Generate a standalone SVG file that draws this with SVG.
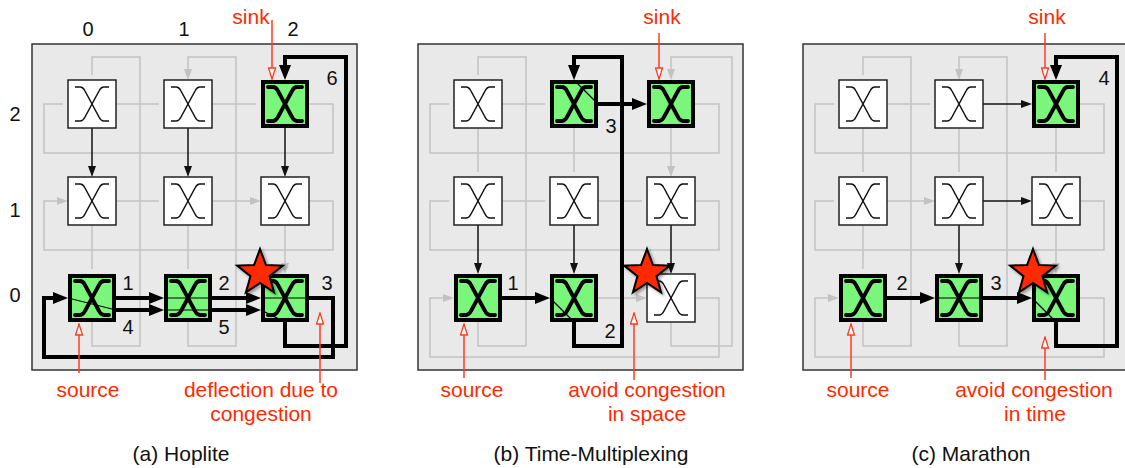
<svg xmlns="http://www.w3.org/2000/svg" xmlns:xlink="http://www.w3.org/1999/xlink" width="1125" height="468" viewBox="0 0 1125 468">
<style>
.box{fill:#e9e9e9;stroke:#333;stroke-width:1.5}
.g{fill:none;stroke:#c2c2c2;stroke-width:1.5}
.gm{marker-end:url(#ag)}
.b{fill:none;stroke:#111;stroke-width:1.5;marker-end:url(#ab)}
.t{fill:none;stroke:#000;stroke-width:4;stroke-linejoin:miter;marker-end:url(#at)}
.wn{fill:#fff;stroke:#222;stroke-width:1.5}
.gn{fill:#7af77a;stroke:#000;stroke-width:4}
.xw{fill:none;stroke:#111;stroke-width:1.5}
.xg{fill:none;stroke:#000;stroke-width:3.8;stroke-linecap:round}
.in{fill:none;stroke:#000;stroke-width:1.2}
.star{fill:#ff2a00;stroke:#000;stroke-width:2;stroke-linejoin:miter;filter:url(#sh)}
.red{fill:none;stroke:#ff3b1f;stroke-width:1.5;marker-end:url(#ar)}
text{font-family:"Liberation Sans",Arial,Helvetica,sans-serif}
.num{font-size:20px;fill:#111;text-anchor:middle}
.rt{font-size:21px;fill:#ff2a00;text-anchor:middle}
.cap{font-size:21px;fill:#111;text-anchor:middle}
</style>
<defs>
<filter id="sh" x="-30%" y="-30%" width="160%" height="160%"><feDropShadow dx="2" dy="2" stdDeviation="1.5" flood-color="#000" flood-opacity="0.35"/></filter>
<marker id="ag" markerUnits="userSpaceOnUse" markerWidth="11" markerHeight="8" viewBox="0 0 11 8" refX="6" refY="4" orient="auto"><path d="M0 0L11 4L0 8z" fill="#c2c2c2"/></marker>
<marker id="ab" markerUnits="userSpaceOnUse" markerWidth="11" markerHeight="8" viewBox="0 0 11 8" refX="6" refY="4" orient="auto"><path d="M0 0L11 4L0 8z" fill="#111"/></marker>
<marker id="at" markerUnits="userSpaceOnUse" markerWidth="15" markerHeight="12" viewBox="0 0 15 12" refX="7" refY="6" orient="auto"><path d="M0 0L15 6L0 12z" fill="#000"/></marker>
<marker id="ar" markerUnits="userSpaceOnUse" markerWidth="13" markerHeight="9" viewBox="0 0 13 9" refX="12" refY="4.5" orient="auto"><path d="M1 1L12 4.5L1 8z" fill="#fff" stroke="#ff3b1f" stroke-width="1.3"/></marker>
<path id="xs" d="M7 7H12Q15 7 17 11L31 37Q33 41 36 41H41M41 7H36Q33 7 31 11L17 37Q15 41 12 41H7"/>
<path id="st" d="M0 -24L5.88 -8.09L22.83 -7.42L9.51 3.09L14.11 19.42L0 10L-14.11 19.42L-9.51 3.09L-22.83 -7.42L-5.88 -8.09Z"/>
</defs>

<rect class="box" x="32" y="44" width="325" height="326"/>
<rect class="box" x="418" y="44" width="325" height="326"/>
<rect class="box" x="803" y="44" width="330" height="326"/>

<g id="connectors">
 <g id="conn-a">
  <path class="g gm" d="M116 104H159M212 104H256M116 201H159M212 201H256"/>
  <path class="g gm" d="M309 104H333V153H44V104H63M309 201H333V250H44V201H63"/>
  <path class="g gm" d="M92 225V269M188 225V269M285 225V269"/>
  <path class="g gm" d="M92 322V346H140V57H92V75M188 322V346H236V57H188V75"/>
  <path class="b" d="M92 128V172"/><path class="b" d="M188 128V172"/><path class="b" d="M285 128V172"/>
  <path class="t" d="M116 298H156"/><path class="t" d="M116 310H156"/>
  <path class="t" d="M212 298H253"/><path class="t" d="M212 310H253"/>
  <path class="t" d="M309 298H333V357H44V298H60"/>
  <path class="t" d="M285 322V346H346V57H285V72"/>
 </g>
 <g id="conn-b" transform="translate(386,0)">
  <path class="g gm" d="M116 104H159M116 201H159M212 201H256M212 298H256"/>
  <path class="g gm" d="M309 104H333V153H44V104H63M309 201H333V250H44V201H63M309 298H333V357H44V298H63"/>
  <path class="g gm" d="M92 128V172M188 128V172M285 128V172"/>
  <path class="g gm" d="M92 322V346H140V57H92V75M285 322V346H346V57H285V75"/>
  <path class="b" d="M92 225V269"/><path class="b" d="M188 225V269"/><path class="b" d="M285 225V269"/>
  <path class="t" d="M116 298H156"/>
  <path class="t" d="M188 322V346H236V57H188V72"/>
  <path class="t" d="M212 104H253"/>
 </g>
 <g id="conn-c" transform="translate(771,0)">
  <path class="g gm" d="M116 104H159M116 201H159"/>
  <path class="g gm" d="M309 104H333V153H44V104H63M309 201H333V250H44V201H63M309 298H333V357H44V298H63"/>
  <path class="g gm" d="M92 128V172M188 128V172M285 128V172M92 225V269M285 225V269"/>
  <path class="g gm" d="M92 322V346H140V57H92V75M188 322V346H236V57H188V75"/>
  <path class="b" d="M212 104H256"/><path class="b" d="M212 201H256"/><path class="b" d="M188 225V269"/>
  <path class="t" d="M116 298H156"/><path class="t" d="M212 298H253"/>
  <path class="t" d="M285 322V346H346V57H285V72"/>
 </g>
 <g id="annotations">
  <path class="red" d="M272 20V79"/>
  <path class="red" d="M79 373V324"/>
  <path class="red" d="M320 383V313"/>
  <path class="red" d="M659 33V79"/>
  <path class="red" d="M464 378V324"/>
  <path class="red" d="M634 380V313"/>
  <path class="red" d="M1045 33V79"/>
  <path class="red" d="M851 378V324"/>
  <path class="red" d="M1045 380V337"/>
 </g>
</g>

<!-- panel a nodes -->
<g id="a-n02"><rect class="wn" x="68" y="80" width="48" height="48"/><use href="#xs" class="xw" x="68" y="80"/></g>
<g id="a-n12"><rect class="wn" x="164" y="80" width="48" height="48"/><use href="#xs" class="xw" x="164" y="80"/></g>
<g id="a-n22"><rect class="gn" x="263" y="82" width="44" height="44"/><use href="#xs" class="xg" x="261" y="80"/></g>
<g id="a-n01"><rect class="wn" x="68" y="177" width="48" height="48"/><use href="#xs" class="xw" x="68" y="177"/></g>
<g id="a-n11"><rect class="wn" x="164" y="177" width="48" height="48"/><use href="#xs" class="xw" x="164" y="177"/></g>
<g id="a-n21"><rect class="wn" x="261" y="177" width="48" height="48"/><use href="#xs" class="xw" x="261" y="177"/></g>
<g id="a-n00"><rect class="gn" x="70" y="276" width="44" height="44"/><use href="#xs" class="xg" x="68" y="274"/><path class="in" d="M68 298L116 310"/></g>
<g id="a-n10"><rect class="gn" x="166" y="276" width="44" height="44"/><use href="#xs" class="xg" x="164" y="274"/><path class="in" d="M164 298H212M164 310H212"/></g>
<g id="a-n20"><rect class="gn" x="263" y="276" width="44" height="44"/><use href="#xs" class="xg" x="261" y="274"/><path class="in" d="M261 298H309M261 310L285 322"/></g>

<!-- panel b nodes -->
<g id="b-n02"><rect class="wn" x="454" y="80" width="48" height="48"/><use href="#xs" class="xw" x="454" y="80"/></g>
<g id="b-n12"><rect class="gn" x="552" y="82" width="44" height="44"/><use href="#xs" class="xg" x="550" y="80"/><path class="in" d="M574 80L598 104"/></g>
<g id="b-n22"><rect class="gn" x="649" y="82" width="44" height="44"/><use href="#xs" class="xg" x="647" y="80"/></g>
<g id="b-n01"><rect class="wn" x="454" y="177" width="48" height="48"/><use href="#xs" class="xw" x="454" y="177"/></g>
<g id="b-n11"><rect class="wn" x="550" y="177" width="48" height="48"/><use href="#xs" class="xw" x="550" y="177"/></g>
<g id="b-n21"><rect class="wn" x="647" y="177" width="48" height="48"/><use href="#xs" class="xw" x="647" y="177"/></g>
<g id="b-n00"><rect class="gn" x="456" y="276" width="44" height="44"/><use href="#xs" class="xg" x="454" y="274"/></g>
<g id="b-n10"><rect class="gn" x="552" y="276" width="44" height="44"/><use href="#xs" class="xg" x="550" y="274"/><path class="in" d="M550 298L574 322"/></g>
<g id="b-n20"><rect class="wn" x="647" y="274" width="48" height="48"/><use href="#xs" class="xw" x="647" y="274"/></g>

<!-- panel c nodes -->
<g id="c-n02"><rect class="wn" x="839" y="80" width="48" height="48"/><use href="#xs" class="xw" x="839" y="80"/></g>
<g id="c-n12"><rect class="wn" x="935" y="80" width="48" height="48"/><use href="#xs" class="xw" x="935" y="80"/></g>
<g id="c-n22"><rect class="gn" x="1034" y="82" width="44" height="44"/><use href="#xs" class="xg" x="1032" y="80"/></g>
<g id="c-n01"><rect class="wn" x="839" y="177" width="48" height="48"/><use href="#xs" class="xw" x="839" y="177"/></g>
<g id="c-n11"><rect class="wn" x="935" y="177" width="48" height="48"/><use href="#xs" class="xw" x="935" y="177"/></g>
<g id="c-n21"><rect class="wn" x="1032" y="177" width="48" height="48"/><use href="#xs" class="xw" x="1032" y="177"/></g>
<g id="c-n00"><rect class="gn" x="841" y="276" width="44" height="44"/><use href="#xs" class="xg" x="839" y="274"/></g>
<g id="c-n10"><rect class="gn" x="937" y="276" width="44" height="44"/><use href="#xs" class="xg" x="935" y="274"/><path class="in" d="M935 298H983"/></g>
<g id="c-n20"><rect class="gn" x="1034" y="276" width="44" height="44"/><use href="#xs" class="xg" x="1032" y="274"/><path class="in" d="M1032 298L1056 322"/></g>

<g id="stars">
 <use href="#st" class="star" x="260" y="273"/>
 <use href="#st" class="star" x="647" y="273"/>
 <use href="#st" class="star" x="1033" y="273"/>
</g>

<g id="labels">
 <text class="num" x="88" y="36">0</text>
 <text class="num" x="184" y="36">1</text>
 <text class="num" x="293" y="36">2</text>
 <text class="num" x="15" y="121">2</text>
 <text class="num" x="15" y="217">1</text>
 <text class="num" x="15" y="302">0</text>
 <text class="num" x="128" y="290">1</text>
 <text class="num" x="128" y="334">4</text>
 <text class="num" x="224" y="290">2</text>
 <text class="num" x="224" y="334">5</text>
 <text class="num" x="327" y="290">3</text>
 <text class="num" x="332" y="85">6</text>
 <text class="num" x="513" y="290">1</text>
 <text class="num" x="610" y="338">2</text>
 <text class="num" x="611" y="133">3</text>
 <text class="num" x="902" y="290">2</text>
 <text class="num" x="996" y="290">3</text>
 <text class="num" x="1104" y="85">4</text>
 <text class="rt" x="251" y="24">sink</text>
 <text class="rt" x="88" y="397">source</text>
 <text class="rt" x="261" y="397">deflection due to</text>
 <text class="rt" x="261" y="421">congestion</text>
 <text class="rt" x="662" y="24">sink</text>
 <text class="rt" x="472" y="397">source</text>
 <text class="rt" x="647" y="397">avoid congestion</text>
 <text class="rt" x="647" y="421">in space</text>
 <text class="rt" x="1047" y="24">sink</text>
 <text class="rt" x="858" y="397">source</text>
 <text class="rt" x="1034" y="397">avoid congestion</text>
 <text class="rt" x="1035" y="421">in time</text>
 <text class="cap" x="181" y="461">(a) Hoplite</text>
 <text class="cap" x="591" y="461">(b) Time-Multiplexing</text>
 <text class="cap" x="971" y="461">(c) Marathon</text>
</g>
</svg>
